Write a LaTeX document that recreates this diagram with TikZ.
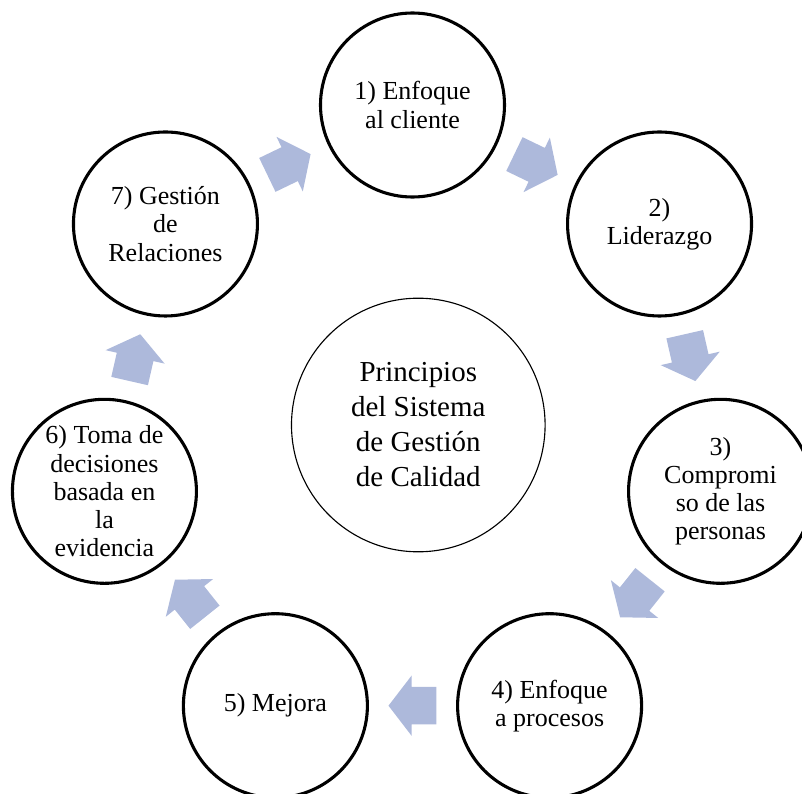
\documentclass[tikz,border=0pt]{standalone}
\usepackage{fontspec}
\setmainfont{Liberation Serif}
\usepackage{tikz}
\usetikzlibrary{positioning, calc, shapes.arrows}

\definecolor{flechaazul}{RGB}{173,185,219}

\begin{document}
\begin{tikzpicture}[
    principio/.style={draw, circle, line width=2.2pt, minimum size=4.6cm, inner sep=0pt, align=center, font=\fontsize{18.5}{20}\selectfont},
    centro/.style={draw, circle, line width=0.8pt, minimum size=6.34cm, inner sep=0pt, align=center, font=\fontsize{20.6}{24.9}\selectfont},
    flecha/.style={single arrow, fill=flechaazul, minimum height=1.2cm, minimum width=1.5cm, single arrow head extend=0.2875cm, single arrow tip angle=105, inner xsep=0pt, inner ysep=0.4625cm, outer sep=0pt, anchor=tip}
]
\useasboundingbox (-10.3125,-9.325) rectangle (9.7375,10.525);
\clip (-10.3125,-9.325) rectangle (9.7375,10.525);
\node[centro] (centro) at (0.145,-0.1) {Principios\\del Sistema\\de Gestión\\de Calidad};
\foreach \i/\txt in {1/{1) Enfoque\\al cliente},2/{2)\\Liderazgo},3/{3)\\Compromi\\so de las\\personas},4/{4) Enfoque\\a procesos},5/{5) Mejora},6/{6) Toma de\\decisiones\\basada en\\la\\evidencia},7/{7) Gestión\\de\\Relaciones}}{
    \node[principio] (p\i) at ({90-(\i-1)*360/7}:7.9) {\txt};
}
% flechas del ciclo
\foreach \i/\j in {1/2,2/3,3/4,4/5,5/6,6/7,7/1}{
    \node[flecha, rotate={-25.714-(\i-1)*360/7}] (f\i) at ($(p\i)!.5!(p\j)!.6cm!(p\j)$) {};
}
\end{tikzpicture}
\end{document}
